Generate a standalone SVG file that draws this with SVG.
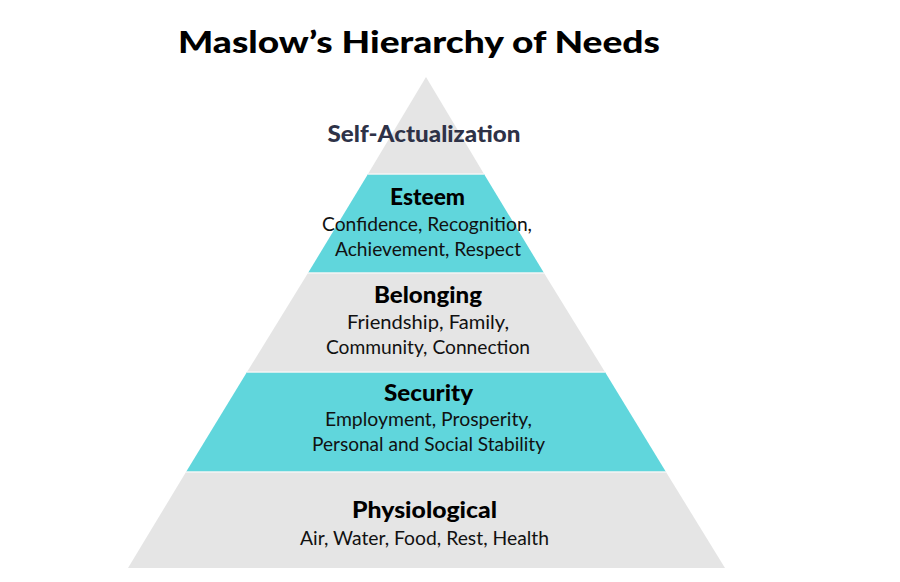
<svg xmlns="http://www.w3.org/2000/svg" width="900" height="582" viewBox="0 0 900 582">
<style>
.gray{fill:#e5e5e5}
.cyan{fill:#60d6dc}
.sep{stroke:#f4f4f4;stroke-width:1.5}
.h{font-family:Lato,"Open Sans","Liberation Sans",sans-serif;font-weight:900;font-size:22px;fill:#000;text-anchor:middle}
.b{font-family:Lato,"Open Sans","Liberation Sans",sans-serif;font-size:18.5px;fill:#111;text-anchor:middle}
</style>
<rect width="900" height="582" fill="#fff"/>
<text x="419" y="53" font-family="Lato,'Open Sans','Liberation Sans',sans-serif" font-weight="900" font-size="31" text-anchor="middle" textLength="482" lengthAdjust="spacingAndGlyphs" fill="#000">Maslow’s Hierarchy of Needs</text>
<g id="self-actualization">
<polygon class="gray" points="426,77 484,174 368,174"/>
<text x="424" y="142" class="h" style="fill:#2e3247" textLength="193" lengthAdjust="spacingAndGlyphs">Self-Actualization</text>
</g>
<g id="esteem">
<polygon class="cyan" points="368,174 484,174 544,273 308,273"/>
<text x="427.5" y="205" class="h" textLength="75" lengthAdjust="spacingAndGlyphs">Esteem</text>
<text x="427" y="231" class="b" textLength="210" lengthAdjust="spacingAndGlyphs">Confidence, Recognition,</text>
<text x="428" y="256" class="b" textLength="186" lengthAdjust="spacingAndGlyphs">Achievement, Respect</text>
</g>
<g id="belonging">
<polygon class="gray" points="308,273 544,273 605,372 247,372"/>
<text x="428" y="303" class="h" textLength="108" lengthAdjust="spacingAndGlyphs">Belonging</text>
<text x="428" y="329" class="b" textLength="162" lengthAdjust="spacingAndGlyphs">Friendship, Family,</text>
<text x="428" y="354" class="b" textLength="204" lengthAdjust="spacingAndGlyphs">Community, Connection</text>
</g>
<g id="security">
<polygon class="cyan" points="247,372 605,372 666,472 186,472"/>
<text x="428.5" y="401" class="h" textLength="89" lengthAdjust="spacingAndGlyphs">Security</text>
<text x="428.5" y="426" class="b" textLength="207" lengthAdjust="spacingAndGlyphs">Employment, Prosperity,</text>
<text x="428.5" y="451" class="b" textLength="233" lengthAdjust="spacingAndGlyphs">Personal and Social Stability</text>
</g>
<g id="physiological">
<polygon class="gray" points="186,472 666,472 725,568 128,568"/>
<text x="424.5" y="518" class="h" textLength="145" lengthAdjust="spacingAndGlyphs">Physiological</text>
<text x="424.5" y="545" class="b" textLength="249" lengthAdjust="spacingAndGlyphs">Air, Water, Food, Rest, Health</text>
</g>
<g id="connectors">
<line class="sep" x1="368" y1="174" x2="484" y2="174"/>
<line class="sep" x1="308" y1="273" x2="544" y2="273"/>
<line class="sep" x1="247" y1="372" x2="605" y2="372"/>
<line class="sep" x1="186" y1="472" x2="666" y2="472"/>
</g>
</svg>
